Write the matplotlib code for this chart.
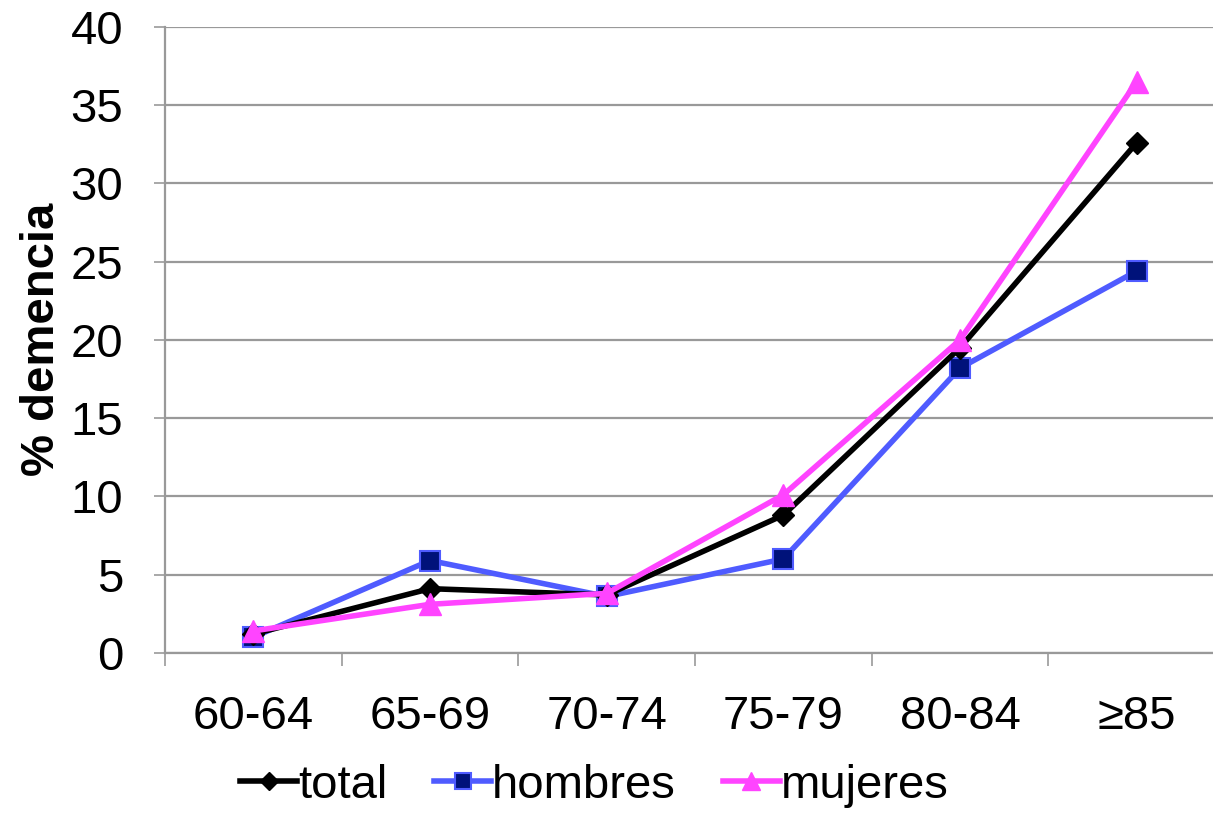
import matplotlib.pyplot as plt
import numpy as np

plt.rcParams['font.family'] = ['Liberation Sans', 'DejaVu Sans']

categories = ['60-64', '65-69', '70-74', '75-79', '80-84', '≥85']
total = [1.2, 4.1, 3.7, 8.8, 19.5, 32.6]
hombres = [1.0, 5.9, 3.6, 6.0, 18.2, 24.4]
mujeres = [1.4, 3.1, 3.8, 10.1, 20.0, 36.5]

fig = plt.figure(figsize=(12.13, 8.13), dpi=100)
ax = fig.add_axes([0.136, 0.197, 0.874, 0.770])

x = np.arange(len(categories))
ax.plot(x, hombres, color='#4f5bff', lw=4, marker='s', ms=14,
        mfc='#00127a', mec='#4f5bff', mew=1.5, label='hombres', zorder=3)
ax.plot(x, total, color='black', lw=4, marker='D', ms=11,
        label='total', zorder=4)
ax.plot(x, mujeres, color='#ff44ff', lw=4, marker='^', ms=16,
        label='mujeres', zorder=5)

ax.set_xlim(-0.5, 5.5)
ax.set_ylim(0, 40)
ax.set_yticks(range(0, 41, 5))
ax.yaxis.grid(True, color='#999999', lw=1.6)
ax.set_axisbelow(True)

ax.set_xticks(x)
ax.set_xticklabels(categories)
ax.set_xticks(np.arange(-0.5, 6, 1), minor=True)
ax.tick_params(axis='x', which='major', length=0, pad=30, labelsize=34)
ax.tick_params(axis='x', which='minor', length=9, width=1.2, color='#999999')
ax.tick_params(axis='y', length=8, width=1.2, color='#999999', pad=22, labelsize=34)

for s in ['top', 'right']:
    ax.spines[s].set_visible(False)
for s in ['left', 'bottom']:
    ax.spines[s].set_color('#999999')
    ax.spines[s].set_linewidth(1.6)

ax.set_ylabel('% demencia', fontsize=34, fontweight='bold', labelpad=5)

h, l = ax.get_legend_handles_labels()
order = [1, 0, 2]
fig.legend([h[i] for i in order], [l[i] for i in order], loc='lower center',
           bbox_to_anchor=(0.49, -0.046), ncol=3, frameon=False, fontsize=34,
           handlelength=1.2, handletextpad=0.02, columnspacing=1.0, markerscale=0.85)

fig.savefig('out.png', dpi=100)
